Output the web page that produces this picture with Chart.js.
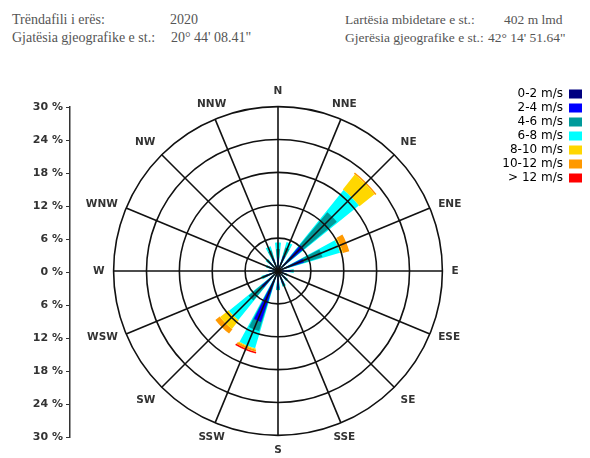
<!DOCTYPE html>
<html>
<head>
<meta charset="utf-8">
<script src="https://cdn.jsdelivr.net/npm/chart.js@4/dist/chart.umd.min.js"></script>
<style>
html,body{margin:0;padding:0;background:#fff;}
#wrap{position:relative;width:590px;height:458px;overflow:hidden;background:#fff;}
#rose{position:absolute;left:0;top:0;width:590px;height:458px;}
#axis{position:absolute;left:0;top:0;width:75px;height:458px;}
.hd{position:absolute;font-family:'Liberation Serif','Times New Roman',serif;font-size:14px;color:#555;white-space:nowrap;line-height:16px;}
</style>
</head>
<body>
<div id="wrap">
  <div class="hd" style="left:12px;top:12px">Trëndafili i erës:</div>
  <div class="hd" style="left:170px;top:12px">2020</div>
  <div class="hd" style="left:12px;top:30px">Gjatësia gjeografike e st.:</div>
  <div class="hd" style="left:171px;top:30px">20° 44' 08.41"</div>
  <div class="hd" style="left:345px;top:12px;font-size:13.5px">Lartësia mbidetare e st.:</div>
  <div class="hd" style="left:504px;top:12px;font-size:13.5px">402 m lmd</div>
  <div class="hd" style="left:345px;top:30px;font-size:13.5px">Gjerësia gjeografike e st.:</div>
  <div class="hd" style="left:488px;top:30px;font-size:13.5px">42° 14' 51.64"</div>
  <canvas id="rose" width="590" height="458"></canvas>
  <canvas id="axis" width="75" height="458"></canvas>
</div>
<script>
// ---- data (frequency %, per speed class, per direction) ----
const directions = ['N','NNE','NE','ENE','E','ESE','SE','SSE','S','SSW','SW','WSW','W','WNW','NW','NNW'];
const speedClasses = ['0-2 m/s','2-4 m/s','4-6 m/s','6-8 m/s','8-10 m/s','10-12 m/s','> 12 m/s'];
const freq0to2   = [1.0,1.2,3.6,2.0,1.0,0.8,1.0,1.2,1.5,4.5,2.0,1.2,0.8,0.8,1.0,1.0];
const freq2to4   = [1.5,1.8,2.6,3.0,1.4,0.8,1.0,1.3,1.7,5.3,2.0,1.3,0.8,1.0,1.2,1.5];
const freq4to6   = [1.5,1.5,7.8,3.5,0.4,0.2,0.3,0.4,0.3,1.7,3.0,0.5,0.2,0.4,0.5,1.4];
const freq6to8   = [1.2,1.0,5.0,3.3,0.1,0.0,0.0,0.1,0.0,3.2,4.5,0.2,0.0,0.1,0.2,0.8];
const freq8to10  = [0.0,0.0,3.5,0.5,0.0,0.0,0.0,0.0,0.0,0.2,2.0,0.0,0.0,0.0,0.0,0.0];
const freq10to12 = [0.0,0.0,0.3,1.2,0.0,0.0,0.0,0.0,0.0,0.4,1.0,0.0,0.0,0.0,0.0,0.0];
const freqAbove12= [0.0,0.0,0.0,0.0,0.0,0.0,0.0,0.0,0.0,0.3,0.0,0.0,0.0,0.0,0.0,0.0];
const axisTickValues = [-30,-24,-18,-12,-6,0,6,12,18,24,30];
const ringMax = 30, ringStep = 6;

// ---- styles ----
const classColors = ['#000080','#0000ff','#009a9a','#00ffff','#ffd700','#ff9900','#ff0000'];
const petalWidthsDeg = [5,8,10,12,13,14,15];
const sectorDeg = 360 / directions.length;
const firstBandedClass = 4; // classes from here on drawn only over their own range

const classFreqs = [freq0to2,freq2to4,freq4to6,freq6to8,freq8to10,freq10to12,freqAbove12];
// cumulative sums (stacked petals)
const cumulative = classFreqs.map((_, c) =>
  directions.map((_, d) => { let s = 0; for (let j = 0; j <= c; j++) s += classFreqs[j][d]; return +s.toFixed(3); })
);
// sequence: half petal N, gap, petal NNE, gap, ..., petal NNW, gap, half petal N
function petalSeries(c) {
  const out = [cumulative[c][0]];
  for (let d = 1; d < directions.length; d++) { out.push(0); out.push(cumulative[c][d]); }
  out.push(0);
  out.push(cumulative[c][0]);
  return out;
}
const nSeg = 2 * directions.length + 1;

const datasets = speedClasses.map((name, c) => ({
  label: name,
  data: petalSeries(c),
  backgroundColor: classColors[c],
  borderWidth: 0,
  angle: (ctx) => {
    const i = ctx.dataIndex, w = petalWidthsDeg[c];
    if (i === 0 || i === nSeg - 1) return w / 2;
    if (i % 2 === 1) return sectorDeg - w;
    return w;
  }
}));

// higher speed classes drawn as ring segments starting where the previous class ends
const ringSegments = {
  id: 'ringSegments',
  afterDatasetsUpdate(chart) {
    const scale = chart.scales.r;
    chart.data.datasets.forEach((ds, c) => {
      if (c < firstBandedClass) return;
      const prev = chart.data.datasets[c - 1].data;
      chart.getDatasetMeta(c).data.forEach((arc, i) => {
        arc.innerRadius = scale.getDistanceFromCenterForValue(prev[i]);
      });
    });
  }
};

const dirFont = {family: "'DejaVu Sans', Verdana, sans-serif", size: 10.5, weight: 'bold'};
const axisFont = {family: "'DejaVu Sans', Verdana, sans-serif", size: 11, weight: 'bold'};
const legendFont = {family: "'DejaVu Sans', Verdana, sans-serif", size: 12};

new Chart(document.getElementById('rose'), {
  type: 'polarArea',
  data: { labels: petalSeries(0).map((_, i) => 'p' + i), datasets },
  plugins: [ringSegments],
  options: {
    responsive: false,
    animation: false,
    events: [],
    layout: { padding: { left: 64, right: 6, top: 86, bottom: 0 } },
    plugins: {
      tooltip: { enabled: false },
      legend: {
        position: 'right', align: 'start', rtl: true, textDirection: 'ltr',
        labels: {
          boxWidth: 13, boxHeight: 9, padding: 2, color: '#555', font: legendFont,
          generateLabels: () => speedClasses.map((t, i) => ({
            text: t, fillStyle: classColors[i], strokeStyle: classColors[i], lineWidth: 0, hidden: false, index: i
          }))
        }
      }
    },
    scales: {
      r: {
        type: 'radialLinear',
        labels: directions,
        min: 0, max: ringMax,
        startAngle: 0,
        ticks: { display: false, stepSize: ringStep },
        grid: { circular: true, color: '#111', lineWidth: 1.6, z: 1 },
        angleLines: { display: true, color: '#111', lineWidth: 1.6 },
        pointLabels: { display: true, padding: 9, color: '#333', font: dirFont, centerPointLabels: false },
        afterFit: (scale) => {
          const items = scale._pointLabelItems;
          if (!items) return;
          items.forEach((it, i) => {
            const h = it.bottom - it.top;
            const deg = i * sectorDeg;
            if (deg === 22.5 || deg === 157.5 || deg === 202.5 || deg === 337.5) it.textAlign = 'center';
            if (deg === 67.5 || deg === 292.5) it.y += h / 2;
            if (deg === 112.5 || deg === 247.5) it.y -= h / 2;
          });
        }
      }
    }
  }
});

new Chart(document.getElementById('axis'), {
  type: 'line',
  data: { labels: [], datasets: [] },
  options: {
    responsive: false,
    animation: false,
    events: [],
    layout: { padding: { left: 0, right: 0, top: 107, bottom: 21 } },
    plugins: { legend: { display: false }, tooltip: { enabled: false } },
    scales: {
      x: { display: false },
      y: {
        min: -30, max: 30,
        afterBuildTicks: (s) => { s.ticks = axisTickValues.map(v => ({ value: v })); },
        afterFit: (s) => { s.width = 70; },
        ticks: { color: '#333', font: axisFont, padding: 3, callback: (v) => Math.abs(v) + ' %' },
        grid: { drawOnChartArea: false, drawTicks: true, tickLength: 4, color: '#333', lineWidth: 1 },
        border: { display: true, color: '#333', width: 1.5 }
      }
    }
  }
});
</script>
</body>
</html>
